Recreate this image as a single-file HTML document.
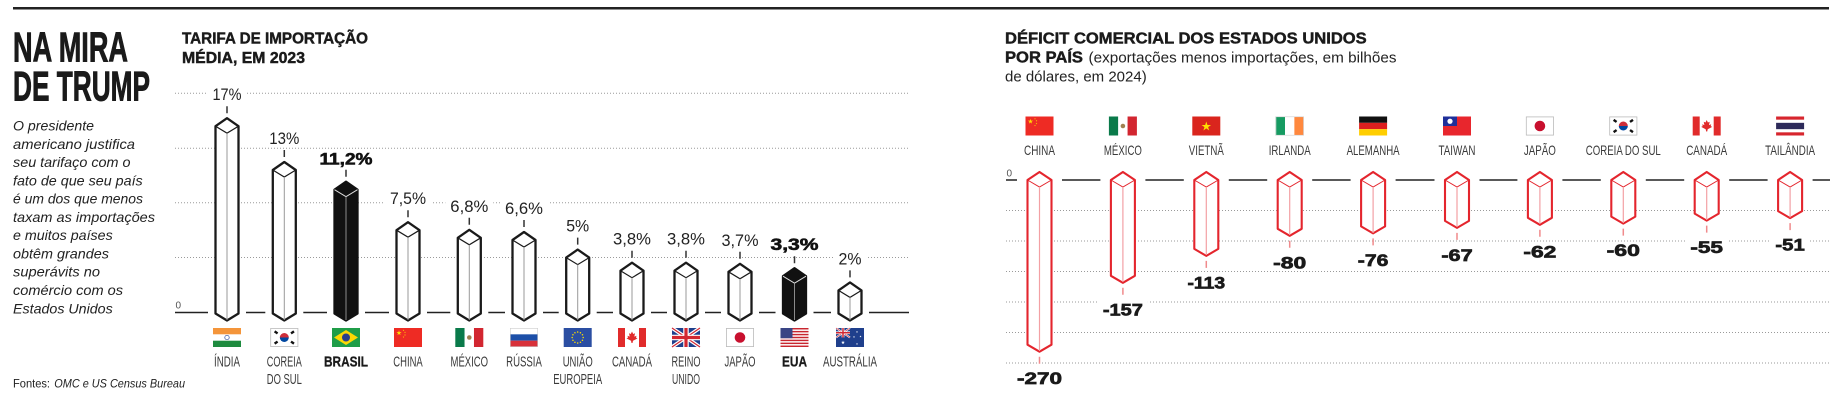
<!DOCTYPE html>
<html><head><meta charset="utf-8">
<style>
html,body{margin:0;padding:0;background:#fff;}
body{width:1831px;height:400px;overflow:hidden;}
svg{display:block;font-family:"Liberation Sans",Arial,sans-serif;}
.cl{font-size:15px;fill:#3a3a3a;text-anchor:middle;}
.clb{font-size:15px;fill:#1a1a1a;font-weight:bold;text-anchor:middle;stroke:#1a1a1a;stroke-width:0.3;}
.rl{font-size:14px;fill:#3a3a3a;text-anchor:middle;}
.vl{font-size:17px;fill:#222;text-anchor:middle;}
.vlb{font-size:17px;fill:#111;font-weight:bold;text-anchor:middle;stroke:#111;stroke-width:0.6;}
.rv{font-size:17px;fill:#1a1a1a;font-weight:bold;text-anchor:middle;stroke:#1a1a1a;stroke-width:0.7;}
.ttl{font-size:16px;font-weight:bold;fill:#1a1a1a;stroke:#1a1a1a;stroke-width:0.45;}
.hd{font-size:42px;font-weight:bold;fill:#1a1a1a;stroke:#1a1a1a;stroke-width:0.9;}
.par{font-size:14px;fill:#222;font-style:italic;}
.grid{stroke:#9a9a9a;stroke-width:1;stroke-dasharray:1 2;fill:none;}
.zero{stroke:#222;stroke-width:1.6;fill:none;}
.wb{fill:#fff;stroke:#1a1a1a;stroke-width:2.3;stroke-linejoin:round;}
.wbi{fill:none;stroke:#1a1a1a;stroke-width:1.2;}
.wbf{fill:none;stroke:#9a9a9a;stroke-width:1;}
.bb{fill:#111;stroke:#111;stroke-width:2.3;stroke-linejoin:round;}
.bbi{fill:none;stroke:#e0e0e0;stroke-width:1;}
.bbf{fill:none;stroke:#8a8a8a;stroke-width:1;}
.rb{fill:#fff;stroke:#e4252d;stroke-width:2.1;stroke-linejoin:round;}
.rbi{fill:none;stroke:#e4252d;stroke-width:1;}
.rbf{fill:none;stroke:#f3a0a4;stroke-width:1.2;}
.tk{stroke:#333;stroke-width:1.5;}
.rtk{stroke:#f08a8c;stroke-width:1.5;}
</style></head>
<body>
<svg width="1831" height="400" viewBox="0 0 1831 400" xmlns="http://www.w3.org/2000/svg">
<defs>
<polygon id="st" points="0,-1 0.2245,-0.309 0.951,-0.309 0.363,0.118 0.588,0.809 0,0.382 -0.588,0.809 -0.363,0.118 -0.951,-0.309 -0.2245,-0.309"/>
<g id="f-in"><rect width="28" height="19" fill="#fff"/><rect width="28" height="6.3" fill="#f4953a"/><rect y="12.7" width="28" height="6.3" fill="#1e8b3f"/><circle cx="14" cy="9.5" r="2.2" fill="none" stroke="#2c4a9a" stroke-width="0.7"/></g>
<g id="f-kr"><rect x="0.4" y="0.4" width="27.2" height="18.2" fill="#fff" stroke="#bbb" stroke-width="0.8"/><path d="M9.5,9.5 A4.5,4.5 0 0 1 18.5,9.5 Z" fill="#cd2e3a"/><path d="M9.5,9.5 A4.5,4.5 0 0 0 18.5,9.5 Z" fill="#0047a0"/><g fill="#111"><rect x="4" y="3.2" width="3.6" height="2.4" transform="rotate(35 5.8 4.4)"/><rect x="20.4" y="3.2" width="3.6" height="2.4" transform="rotate(-35 22.2 4.4)"/><rect x="4" y="13.4" width="3.6" height="2.4" transform="rotate(-35 5.8 14.6)"/><rect x="20.4" y="13.4" width="3.6" height="2.4" transform="rotate(35 22.2 14.6)"/></g></g>
<g id="f-br"><rect width="28" height="19" fill="#1f9d48"/><polygon points="14,2 26,9.5 14,17 2,9.5" fill="#fcd804"/><circle cx="14" cy="9.5" r="4" fill="#2a3f8c"/></g>
<g id="f-cn"><rect width="28" height="19" fill="#ee2b24"/><use href="#st" transform="translate(5,5) scale(2.7)" fill="#ffde00"/><use href="#st" transform="translate(9.5,2.3) scale(0.9)" fill="#ffde00"/><use href="#st" transform="translate(11,4.3) scale(0.9)" fill="#ffde00"/><use href="#st" transform="translate(11,7) scale(0.9)" fill="#ffde00"/><use href="#st" transform="translate(9.5,9) scale(0.9)" fill="#ffde00"/></g>
<g id="f-mx"><rect width="9.33" height="19" fill="#0a7a4a"/><rect x="9.33" width="9.34" height="19" fill="#fff"/><rect x="18.67" width="9.33" height="19" fill="#d22630"/><circle cx="14" cy="9.5" r="2.3" fill="#a08050"/></g>
<g id="f-ru"><rect width="28" height="6.33" fill="#fff"/><rect y="6.33" width="28" height="6.34" fill="#1c4fa8"/><rect y="12.67" width="28" height="6.33" fill="#d8313a"/><rect x="0.3" y="0.3" width="27.4" height="18.4" fill="none" stroke="#ccc" stroke-width="0.6"/></g>
<g id="f-eu"><rect width="28" height="19" fill="#2b4ea2"/><g fill="#ffdd00"><circle cx="14" cy="4" r="0.75"/><circle cx="16.75" cy="4.74" r="0.75"/><circle cx="18.76" cy="6.75" r="0.75"/><circle cx="19.5" cy="9.5" r="0.75"/><circle cx="18.76" cy="12.25" r="0.75"/><circle cx="16.75" cy="14.26" r="0.75"/><circle cx="14" cy="15" r="0.75"/><circle cx="11.25" cy="14.26" r="0.75"/><circle cx="9.24" cy="12.25" r="0.75"/><circle cx="8.5" cy="9.5" r="0.75"/><circle cx="9.24" cy="6.75" r="0.75"/><circle cx="11.25" cy="4.74" r="0.75"/></g></g>
<g id="f-ca"><rect width="28" height="19" fill="#fff"/><rect width="7" height="19" fill="#e12b2b"/><rect x="21" width="7" height="19" fill="#e12b2b"/><path d="M14,3.5 L15.2,6 L17,5.3 L16.3,8.6 L18.5,7.8 L18,9.6 L19.5,10.4 L15,12.8 L14.5,15 L13.5,15 L13,12.8 L8.5,10.4 L10,9.6 L9.5,7.8 L11.7,8.6 L11,5.3 L12.8,6 Z" fill="#e12b2b"/></g>
<g id="f-uk"><rect width="28" height="19" fill="#1f3f8c"/><path d="M0,0 L28,19 M28,0 L0,19" stroke="#fff" stroke-width="3.6"/><path d="M0,0 L28,19 M28,0 L0,19" stroke="#d22630" stroke-width="1.2"/><path d="M14,0 V19 M0,9.5 H28" stroke="#fff" stroke-width="5.5"/><path d="M14,0 V19 M0,9.5 H28" stroke="#d22630" stroke-width="3.2"/></g>
<g id="f-jp"><rect x="0.4" y="0.4" width="27.2" height="18.2" fill="#fff" stroke="#bbb" stroke-width="0.8"/><circle cx="14" cy="9.5" r="5.3" fill="#c8102e"/></g>
<g id="f-us"><rect width="28" height="19" fill="#fff"/><g fill="#c8262f"><rect y="0" width="28" height="1.46"/><rect y="2.92" width="28" height="1.46"/><rect y="5.85" width="28" height="1.46"/><rect y="8.77" width="28" height="1.46"/><rect y="11.69" width="28" height="1.46"/><rect y="14.62" width="28" height="1.46"/><rect y="17.54" width="28" height="1.46"/></g><rect width="12" height="10.2" fill="#3a4585"/></g>
<g id="f-au"><rect width="28" height="19" fill="#1f3f8c"/><path d="M0,0 L14,9.5 M14,0 L0,9.5" stroke="#fff" stroke-width="1.8"/><path d="M0,0 L14,9.5 M14,0 L0,9.5" stroke="#d22630" stroke-width="0.6"/><path d="M7,0 V9.5 M0,4.75 H14" stroke="#fff" stroke-width="2.7"/><path d="M7,0 V9.5 M0,4.75 H14" stroke="#d22630" stroke-width="1.5"/><g fill="#fff"><use href="#st" transform="translate(7,14.5) scale(2)"/><use href="#st" transform="translate(21,4) scale(1.1)"/><use href="#st" transform="translate(24.5,8.5) scale(1.1)"/><use href="#st" transform="translate(21,16) scale(1.1)"/><use href="#st" transform="translate(18,9) scale(1.1)"/></g></g>
<g id="f-vn"><rect width="28" height="19" fill="#da251d"/><use href="#st" transform="translate(14,10) scale(5)" fill="#ffde00"/></g>
<g id="f-ie"><rect width="9.33" height="19" fill="#169b62"/><rect x="9.33" width="9.34" height="19" fill="#fff"/><rect x="18.67" width="9.33" height="19" fill="#ff883e"/><rect x="0.3" y="0.3" width="27.4" height="18.4" fill="none" stroke="#ccc" stroke-width="0.6"/></g>
<g id="f-de"><rect width="28" height="6.33" fill="#111"/><rect y="6.33" width="28" height="6.34" fill="#dd1f1f"/><rect y="12.67" width="28" height="6.33" fill="#ffce00"/></g>
<g id="f-tw"><rect width="28" height="19" fill="#e8262d"/><rect width="14" height="9.5" fill="#1f2f9a"/><circle cx="7" cy="4.75" r="2.6" fill="#fff"/></g>
<g id="f-th"><rect width="28" height="19" fill="#fff"/><rect width="28" height="3.17" fill="#d7262e"/><rect y="6.33" width="28" height="6.34" fill="#2d2a5a"/><rect y="15.83" width="28" height="3.17" fill="#d7262e"/></g>
</defs>

<!-- top rule -->
<rect x="13" y="7" width="1816" height="2.5" fill="#222"/>

<!-- LEFT INTRO -->
<text class="hd" x="13" y="61.5" textLength="115" lengthAdjust="spacingAndGlyphs">NA MIRA</text>
<text class="hd" x="13" y="100.5" textLength="137" lengthAdjust="spacingAndGlyphs">DE TRUMP</text>
<text class="par" x="13" y="130.5" textLength="81" lengthAdjust="spacingAndGlyphs">O presidente</text>
<text class="par" x="13" y="148.8" textLength="122" lengthAdjust="spacingAndGlyphs">americano justifica</text>
<text class="par" x="13" y="167.1" textLength="117.5" lengthAdjust="spacingAndGlyphs">seu tarifaço com o</text>
<text class="par" x="13" y="185.3" textLength="129.7" lengthAdjust="spacingAndGlyphs">fato de que seu país</text>
<text class="par" x="13" y="203.6" textLength="130" lengthAdjust="spacingAndGlyphs">é um dos que menos</text>
<text class="par" x="13" y="221.9" textLength="142" lengthAdjust="spacingAndGlyphs">taxam as importações</text>
<text class="par" x="13" y="240.2" textLength="99.7" lengthAdjust="spacingAndGlyphs">e muitos países</text>
<text class="par" x="13" y="258.5" textLength="96" lengthAdjust="spacingAndGlyphs">obtêm grandes</text>
<text class="par" x="13" y="276.7" textLength="87" lengthAdjust="spacingAndGlyphs">superávits no</text>
<text class="par" x="13" y="295" textLength="110" lengthAdjust="spacingAndGlyphs">comércio com os</text>
<text class="par" x="13" y="313.3" textLength="99.7" lengthAdjust="spacingAndGlyphs">Estados Unidos</text>
<text x="13" y="387.3" font-size="12" fill="#222" textLength="37" lengthAdjust="spacingAndGlyphs">Fontes:</text>
<text x="54.3" y="387.3" font-size="12" font-style="italic" fill="#222" textLength="130.7" lengthAdjust="spacingAndGlyphs">OMC e US Census Bureau</text>

<!-- LEFT CHART -->
<text class="ttl" x="182" y="43.3" textLength="186" lengthAdjust="spacingAndGlyphs">TARIFA DE IMPORTAÇÃO</text>
<text class="ttl" x="182" y="62.8" textLength="123" lengthAdjust="spacingAndGlyphs">MÉDIA, EM 2023</text>

<path class="grid" d="M175,93.3 H909 M175,148.3 H909 M175,202.8 H909 M175,257.5 H909"/>
<text x="175.5" y="308.5" font-size="10" fill="#555">0</text>
<path class="zero" d="M175,312.5 H208 M246,312.5 H265.3 M303.3,312.5 H327 M365,312.5 H389 M427,312.5 H450.3 M488.3,312.5 H505 M543,312.5 H558.7 M596.7,312.5 H613 M651,312.5 H667 M705,312.5 H721 M759,312.5 H775.5 M813.5,312.5 H831 M869,312.5 H909"/>

<!-- bars left -->
<path class="wb" d="M227,118.2 L238.5,126.2 L238.5,313.5 L227,320.5 L215.5,313.5 L215.5,126.2 Z"/>
<path class="wbi" d="M215.5,126.2 L227,133.2 L238.5,126.2"/><path class="wbf" d="M227,133.2 V320"/>

<path class="wb" d="M284.3,162 L295.8,170 L295.8,313.5 L284.3,320.5 L272.8,313.5 L272.8,170 Z"/>
<path class="wbi" d="M272.8,170 L284.3,177 L295.8,170"/><path class="wbf" d="M284.3,177 V320"/>

<path class="bb" d="M346,181.7 L357.5,189.7 L357.5,313.5 L346,320.5 L334.5,313.5 L334.5,189.7 Z"/>
<path class="bbi" d="M334.5,189.7 L346,196.7 L357.5,189.7"/><path class="bbf" d="M346,196.7 V320"/>

<path class="wb" d="M408,222.2 L419.5,230.2 L419.5,313.5 L408,320.5 L396.5,313.5 L396.5,230.2 Z"/>
<path class="wbi" d="M396.5,230.2 L408,237.2 L419.5,230.2"/><path class="wbf" d="M408,237.2 V320"/>

<path class="wb" d="M469.3,229.8 L480.8,237.8 L480.8,313.5 L469.3,320.5 L457.8,313.5 L457.8,237.8 Z"/>
<path class="wbi" d="M457.8,237.8 L469.3,244.8 L480.8,237.8"/><path class="wbf" d="M469.3,244.8 V320"/>

<path class="wb" d="M524,232 L535.5,240 L535.5,313.5 L524,320.5 L512.5,313.5 L512.5,240 Z"/>
<path class="wbi" d="M512.5,240 L524,247 L535.5,240"/><path class="wbf" d="M524,247 V320"/>

<path class="wb" d="M577.7,249.6 L589.2,257.6 L589.2,313.5 L577.7,320.5 L566.2,313.5 L566.2,257.6 Z"/>
<path class="wbi" d="M566.2,257.6 L577.7,264.6 L589.2,257.6"/><path class="wbf" d="M577.7,264.6 V320"/>

<path class="wb" d="M632,262.7 L643.5,270.7 L643.5,313.5 L632,320.5 L620.5,313.5 L620.5,270.7 Z"/>
<path class="wbi" d="M620.5,270.7 L632,277.7 L643.5,270.7"/><path class="wbf" d="M632,277.7 V320"/>

<path class="wb" d="M686,262.7 L697.5,270.7 L697.5,313.5 L686,320.5 L674.5,313.5 L674.5,270.7 Z"/>
<path class="wbi" d="M674.5,270.7 L686,277.7 L697.5,270.7"/><path class="wbf" d="M686,277.7 V320"/>

<path class="wb" d="M740,263.8 L751.5,271.8 L751.5,313.5 L740,320.5 L728.5,313.5 L728.5,271.8 Z"/>
<path class="wbi" d="M728.5,271.8 L740,278.8 L751.5,271.8"/><path class="wbf" d="M740,278.8 V320"/>

<path class="bb" d="M794.5,268.2 L806,276.2 L806,313.5 L794.5,320.5 L783,313.5 L783,276.2 Z"/>
<path class="bbi" d="M783,276.2 L794.5,283.2 L806,276.2"/><path class="bbf" d="M794.5,283.2 V320"/>

<path class="wb" d="M850,282.4 L861.5,290.4 L861.5,313.5 L850,320.5 L838.5,313.5 L838.5,290.4 Z"/>
<path class="wbi" d="M838.5,290.4 L850,297.4 L861.5,290.4"/><path class="wbf" d="M850,297.4 V320"/>

<!-- ticks left -->
<path class="tk" d="M227,106.2 V113.2 M284.3,150 V157 M346,169.7 V176.7 M408,210.2 V217.2 M469.3,217.8 V224.8 M524,220 V227 M577.7,237.6 V244.6 M632,250.7 V257.7 M686,250.7 V257.7 M740,251.8 V258.8 M794.5,256.2 V263.2 M850,270.4 V277.4"/>

<!-- label backgrounds left -->
<g fill="#fff">
<rect x="207" y="85.2" width="39" height="17"/>
<rect x="264.3" y="129" width="40" height="17"/>
<rect x="314.5" y="149.5" width="63" height="17"/>
<rect x="385" y="188.8" width="46" height="17"/>
<rect x="445.3" y="196.8" width="48" height="17"/>
<rect x="500" y="199" width="48" height="17"/>
<rect x="561.2" y="216.6" width="33" height="17"/>
<rect x="608" y="229.7" width="48" height="17"/>
<rect x="662" y="229.7" width="48" height="17"/>
<rect x="716.5" y="230.8" width="47" height="17"/>
<rect x="765.5" y="235.2" width="58" height="17"/>
<rect x="833.5" y="249.4" width="33" height="17"/>
</g>
<text class="vl" x="227" y="100.2" textLength="29" lengthAdjust="spacingAndGlyphs">17%</text>
<text class="vl" x="284.3" y="144" textLength="30" lengthAdjust="spacingAndGlyphs">13%</text>
<text class="vlb" x="346" y="164.5" textLength="53" lengthAdjust="spacingAndGlyphs">11,2%</text>
<text class="vl" x="408" y="203.8" textLength="36" lengthAdjust="spacingAndGlyphs">7,5%</text>
<text class="vl" x="469.3" y="211.8" textLength="38" lengthAdjust="spacingAndGlyphs">6,8%</text>
<text class="vl" x="524" y="214" textLength="38" lengthAdjust="spacingAndGlyphs">6,6%</text>
<text class="vl" x="577.7" y="231.6" textLength="23" lengthAdjust="spacingAndGlyphs">5%</text>
<text class="vl" x="632" y="244.7" textLength="38" lengthAdjust="spacingAndGlyphs">3,8%</text>
<text class="vl" x="686" y="244.7" textLength="38" lengthAdjust="spacingAndGlyphs">3,8%</text>
<text class="vl" x="740" y="245.8" textLength="37" lengthAdjust="spacingAndGlyphs">3,7%</text>
<text class="vlb" x="794.5" y="250.2" textLength="48" lengthAdjust="spacingAndGlyphs">3,3%</text>
<text class="vl" x="850" y="264.4" textLength="23" lengthAdjust="spacingAndGlyphs">2%</text>

<!-- flags left -->
<use href="#f-in" transform="translate(213,328)"/>
<use href="#f-kr" transform="translate(270.3,328)"/>
<use href="#f-br" transform="translate(332,328)"/>
<use href="#f-cn" transform="translate(394,328)"/>
<use href="#f-mx" transform="translate(455.3,328)"/>
<use href="#f-ru" transform="translate(510,328)"/>
<use href="#f-eu" transform="translate(563.7,328)"/>
<use href="#f-ca" transform="translate(618,328)"/>
<use href="#f-uk" transform="translate(672,328)"/>
<use href="#f-jp" transform="translate(726,328)"/>
<use href="#f-us" transform="translate(780.5,328)"/>
<use href="#f-au" transform="translate(836,328)"/>

<!-- country labels left -->
<text class="cl" x="227" y="366.7" textLength="26" lengthAdjust="spacingAndGlyphs">ÍNDIA</text>
<text class="cl" x="284.3" y="366.7" textLength="35" lengthAdjust="spacingAndGlyphs">COREIA</text>
<text class="cl" x="284.3" y="384" textLength="35" lengthAdjust="spacingAndGlyphs">DO SUL</text>
<text class="clb" x="346" y="366.7" textLength="44" lengthAdjust="spacingAndGlyphs">BRASIL</text>
<text class="cl" x="408" y="366.7" textLength="29.4" lengthAdjust="spacingAndGlyphs">CHINA</text>
<text class="cl" x="469.3" y="366.7" textLength="37.6" lengthAdjust="spacingAndGlyphs">MÉXICO</text>
<text class="cl" x="524" y="366.7" textLength="35.7" lengthAdjust="spacingAndGlyphs">RÚSSIA</text>
<text class="cl" x="577.7" y="366.7" textLength="30" lengthAdjust="spacingAndGlyphs">UNIÃO</text>
<text class="cl" x="577.7" y="384" textLength="49" lengthAdjust="spacingAndGlyphs">EUROPEIA</text>
<text class="cl" x="632" y="366.7" textLength="40" lengthAdjust="spacingAndGlyphs">CANADÁ</text>
<text class="cl" x="686" y="366.7" textLength="29" lengthAdjust="spacingAndGlyphs">REINO</text>
<text class="cl" x="686" y="384" textLength="28" lengthAdjust="spacingAndGlyphs">UNIDO</text>
<text class="cl" x="740" y="366.7" textLength="31" lengthAdjust="spacingAndGlyphs">JAPÃO</text>
<text class="clb" x="794.5" y="366.7" textLength="25" lengthAdjust="spacingAndGlyphs">EUA</text>
<text class="cl" x="850" y="366.7" textLength="54" lengthAdjust="spacingAndGlyphs">AUSTRÁLIA</text>

<!-- RIGHT CHART -->
<text class="ttl" x="1005" y="43.3" textLength="361.7" lengthAdjust="spacingAndGlyphs">DÉFICIT COMERCIAL DOS ESTADOS UNIDOS</text>
<text class="ttl" x="1005" y="62.7" textLength="78" lengthAdjust="spacingAndGlyphs">POR PAÍS</text>
<text x="1088.5" y="62.7" font-size="15" fill="#222" textLength="308" lengthAdjust="spacingAndGlyphs">(exportações menos importações, em bilhões</text>
<text x="1005" y="81.7" font-size="15" fill="#222" textLength="141.7" lengthAdjust="spacingAndGlyphs">de dólares, em 2024)</text>

<!-- flags right -->
<use href="#f-cn" transform="translate(1025.5,116.5)"/>
<use href="#f-mx" transform="translate(1108.9,116.5)"/>
<use href="#f-vn" transform="translate(1192.3,116.5)"/>
<use href="#f-ie" transform="translate(1275.7,116.5)"/>
<use href="#f-de" transform="translate(1359.1,116.5)"/>
<use href="#f-tw" transform="translate(1443,116.5)"/>
<use href="#f-jp" transform="translate(1525.9,116.5)"/>
<use href="#f-kr" transform="translate(1609.3,116.5)"/>
<use href="#f-ca" transform="translate(1692.7,116.5)"/>
<use href="#f-th" transform="translate(1776.1,116.5)"/>

<text class="rl" x="1039.5" y="155" textLength="31" lengthAdjust="spacingAndGlyphs">CHINA</text>
<text class="rl" x="1122.9" y="155" textLength="38" lengthAdjust="spacingAndGlyphs">MÉXICO</text>
<text class="rl" x="1206.3" y="155" textLength="35" lengthAdjust="spacingAndGlyphs">VIETNÃ</text>
<text class="rl" x="1289.7" y="155" textLength="42" lengthAdjust="spacingAndGlyphs">IRLANDA</text>
<text class="rl" x="1373.1" y="155" textLength="53" lengthAdjust="spacingAndGlyphs">ALEMANHA</text>
<text class="rl" x="1457" y="155" textLength="37" lengthAdjust="spacingAndGlyphs">TAIWAN</text>
<text class="rl" x="1539.9" y="155" textLength="32" lengthAdjust="spacingAndGlyphs">JAPÃO</text>
<text class="rl" x="1623.3" y="155" textLength="75" lengthAdjust="spacingAndGlyphs">COREIA DO SUL</text>
<text class="rl" x="1706.7" y="155" textLength="41" lengthAdjust="spacingAndGlyphs">CANADÁ</text>
<text class="rl" x="1790.1" y="155" textLength="50" lengthAdjust="spacingAndGlyphs">TAILÂNDIA</text>

<path class="grid" d="M1006,210.5 H1830 M1006,241 H1830 M1006,271.5 H1830 M1006,302 H1830 M1006,332.5 H1830 M1006,363 H1830"/>
<text x="1006.5" y="176.5" font-size="10" fill="#555">0</text>
<path class="zero" d="M1006,180 H1017 M1062,180 H1100.4 M1145.4,180 H1183.8 M1228.8,180 H1267.2 M1312.2,180 H1350.6 M1395.6,180 H1434.5 M1479.5,180 H1517.4 M1562.4,180 H1600.8 M1645.8,180 H1684.2 M1729.2,180 H1767.6 M1812.6,180 H1830"/>

<!-- bars right -->
<path class="rb" d="M1039.5,172 L1051.5,180 L1051.5,344.7 L1039.5,351.7 L1027.5,344.7 L1027.5,180 Z"/>
<path class="rbi" d="M1027.5,180 L1039.5,187 L1051.5,180"/><path class="rbf" d="M1039.5,187 V351"/>

<path class="rb" d="M1122.9,172 L1134.9,180 L1134.9,275.8 L1122.9,282.8 L1110.9,275.8 L1110.9,180 Z"/>
<path class="rbi" d="M1110.9,180 L1122.9,187 L1134.9,180"/><path class="rbf" d="M1122.9,187 V282"/>

<path class="rb" d="M1206.3,172 L1218.3,180 L1218.3,248.9 L1206.3,255.9 L1194.3,248.9 L1194.3,180 Z"/>
<path class="rbi" d="M1194.3,180 L1206.3,187 L1218.3,180"/><path class="rbf" d="M1206.3,187 V255"/>

<path class="rb" d="M1289.7,172 L1301.7,180 L1301.7,228.8 L1289.7,235.8 L1277.7,228.8 L1277.7,180 Z"/>
<path class="rbi" d="M1277.7,180 L1289.7,187 L1301.7,180"/><path class="rbf" d="M1289.7,187 V235"/>

<path class="rb" d="M1373.1,172 L1385.1,180 L1385.1,226.4 L1373.1,233.4 L1361.1,226.4 L1361.1,180 Z"/>
<path class="rbi" d="M1361.1,180 L1373.1,187 L1385.1,180"/><path class="rbf" d="M1373.1,187 V233"/>

<path class="rb" d="M1457,172 L1469,180 L1469,220.9 L1457,227.9 L1445,220.9 L1445,180 Z"/>
<path class="rbi" d="M1445,180 L1457,187 L1469,180"/><path class="rbf" d="M1457,187 V227"/>

<path class="rb" d="M1539.9,172 L1551.9,180 L1551.9,217.8 L1539.9,224.8 L1527.9,217.8 L1527.9,180 Z"/>
<path class="rbi" d="M1527.9,180 L1539.9,187 L1551.9,180"/><path class="rbf" d="M1539.9,187 V224"/>

<path class="rb" d="M1623.3,172 L1635.3,180 L1635.3,216.6 L1623.3,223.6 L1611.3,216.6 L1611.3,180 Z"/>
<path class="rbi" d="M1611.3,180 L1623.3,187 L1635.3,180"/><path class="rbf" d="M1623.3,187 V223"/>

<path class="rb" d="M1706.7,172 L1718.7,180 L1718.7,213.6 L1706.7,220.6 L1694.7,213.6 L1694.7,180 Z"/>
<path class="rbi" d="M1694.7,180 L1706.7,187 L1718.7,180"/><path class="rbf" d="M1706.7,187 V220"/>

<path class="rb" d="M1790.1,172 L1802.1,180 L1802.1,211.1 L1790.1,218.1 L1778.1,211.1 L1778.1,180 Z"/>
<path class="rbi" d="M1778.1,180 L1790.1,187 L1802.1,180"/><path class="rbf" d="M1790.1,187 V217.5"/>

<!-- ticks right -->
<path class="rtk" d="M1039.5,356.7 V363.7 M1122.9,287.8 V294.8 M1206.3,260.9 V267.9 M1289.7,240.8 V247.8 M1373.1,238.4 V245.4 M1457,232.9 V239.9 M1539.9,229.8 V236.8 M1623.3,228.6 V235.6 M1706.7,225.6 V232.6 M1790.1,223.1 V230.1"/>

<g fill="#fff">
<rect x="1012" y="370.2" width="55" height="16"/>
<rect x="1097.9" y="301.3" width="50" height="16"/>
<rect x="1182.5" y="274.4" width="47.6" height="16"/>
<rect x="1268.2" y="254.3" width="43" height="16"/>
<rect x="1352.8" y="251.9" width="40.6" height="16"/>
<rect x="1436.35" y="246.4" width="41.3" height="16"/>
<rect x="1518.4" y="243.3" width="43" height="16"/>
<rect x="1601.65" y="242.1" width="43.3" height="16"/>
<rect x="1685.4" y="239.1" width="42.6" height="16"/>
<rect x="1770.45" y="236.6" width="39.3" height="16"/>
</g>
<text class="rv" x="1039.5" y="384" textLength="45" lengthAdjust="spacingAndGlyphs">-270</text>
<text class="rv" x="1122.9" y="315.3" textLength="40" lengthAdjust="spacingAndGlyphs">-157</text>
<text class="rv" x="1206.3" y="288.4" textLength="37.6" lengthAdjust="spacingAndGlyphs">-113</text>
<text class="rv" x="1289.7" y="268.3" textLength="33" lengthAdjust="spacingAndGlyphs">-80</text>
<text class="rv" x="1373.1" y="265.9" textLength="30.6" lengthAdjust="spacingAndGlyphs">-76</text>
<text class="rv" x="1457" y="261" textLength="31.3" lengthAdjust="spacingAndGlyphs">-67</text>
<text class="rv" x="1539.9" y="257.3" textLength="33" lengthAdjust="spacingAndGlyphs">-62</text>
<text class="rv" x="1623.3" y="256.1" textLength="33.3" lengthAdjust="spacingAndGlyphs">-60</text>
<text class="rv" x="1706.7" y="253.1" textLength="32.6" lengthAdjust="spacingAndGlyphs">-55</text>
<text class="rv" x="1790.1" y="250.6" textLength="29.3" lengthAdjust="spacingAndGlyphs">-51</text>
</svg>
</body></html>
